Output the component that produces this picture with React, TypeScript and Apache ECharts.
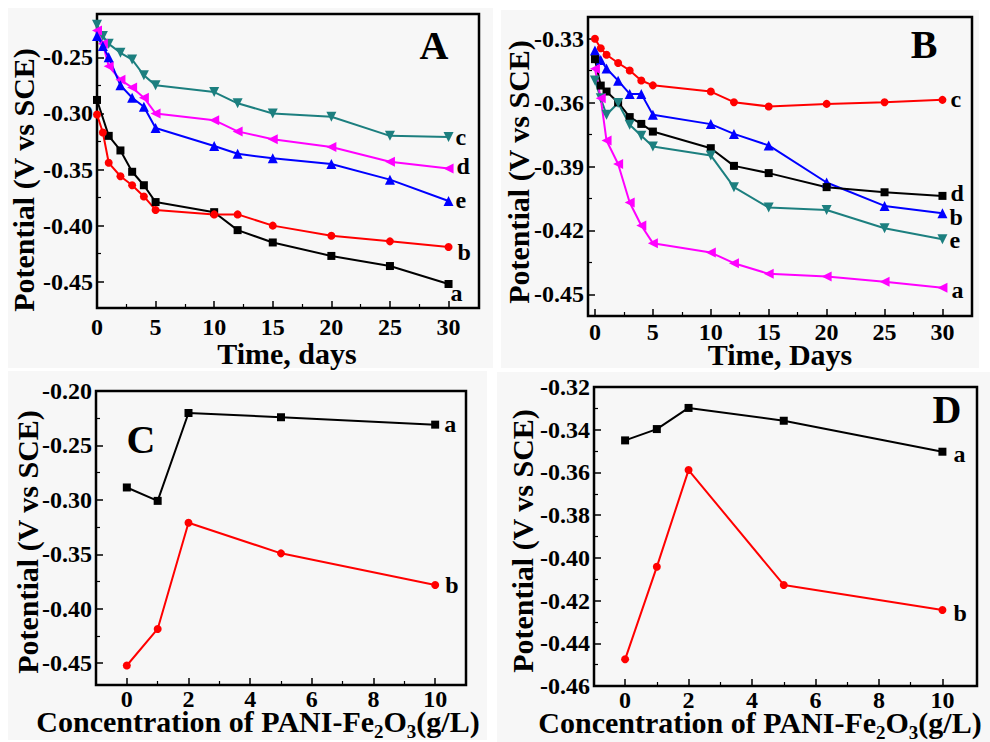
import React, { useEffect, useRef } from 'react';
import * as echarts from 'echarts';

const FONT = '"Liberation Serif", "Times New Roman", serif';

// ---------- Panel A ----------
const daysA_a = [0, 1, 2, 3, 4, 5, 10, 12, 15, 20, 25, 30];
const daysA = [0, 0.5, 1, 2, 3, 4, 5, 10, 12, 15, 20, 25, 30];
const A_a = [-0.288, -0.320, -0.333, -0.352, -0.364, -0.379, -0.388, -0.404, -0.415, -0.427, -0.436, -0.452];
const A_b = [-0.301, -0.317, -0.344, -0.356, -0.364, -0.374, -0.386, -0.390, -0.390, -0.400, -0.409, -0.414, -0.419];
const A_c = [-0.221, -0.231, -0.238, -0.246, -0.252, -0.266, -0.275, -0.281, -0.291, -0.300, -0.303, -0.320, -0.321];
const A_d = [-0.226, -0.238, -0.258, -0.270, -0.277, -0.286, -0.300, -0.306, -0.316, -0.323, -0.330, -0.343, -0.349];
const A_e = [-0.231, -0.240, -0.250, -0.275, -0.286, -0.294, -0.313, -0.329, -0.336, -0.340, -0.345, -0.359, -0.378];

// ---------- Panel B ----------
const daysB = [0, 0.5, 1, 2, 3, 4, 5, 10, 12, 15, 20, 25, 30];
const B_c = [-0.330, -0.3345, -0.3375, -0.3414, -0.3449, -0.3496, -0.3519, -0.3548, -0.3598, -0.3618, -0.3606, -0.3598, -0.3587];
const B_b = [-0.3355, -0.340, -0.344, -0.3497, -0.3559, -0.3559, -0.3657, -0.3701, -0.3747, -0.3801, -0.3975, -0.4085, -0.4119];
const B_d = [-0.3396, -0.352, -0.3548, -0.3599, -0.3668, -0.3700, -0.3736, -0.3814, -0.3897, -0.3931, -0.3997, -0.4021, -0.4038];
const B_e = [-0.3496, -0.358, -0.3657, -0.3602, -0.3704, -0.3756, -0.3806, -0.3848, -0.3997, -0.4093, -0.4104, -0.4190, -0.4242];
const B_a = [-0.3441, -0.358, -0.3778, -0.3888, -0.4069, -0.4177, -0.4260, -0.4304, -0.4354, -0.4404, -0.4417, -0.4441, -0.4469];

// ---------- Panel C ----------
const concC = [0, 1, 2, 5, 10];
const C_a = [-0.2886, -0.3009, -0.2202, -0.2241, -0.2309];
const C_b = [-0.4521, -0.4185, -0.3210, -0.3491, -0.3782];

// ---------- Panel D ----------
const concD = [0, 1, 2, 5, 10];
const D_a = [-0.345, -0.3397, -0.3298, -0.3358, -0.3503];
const D_b = [-0.4475, -0.4042, -0.3589, -0.4127, -0.4244];

// ---------- tick values ----------
const xMajorAB = [0, 5, 10, 15, 20, 25, 30];
const xMinorAB = [2.5, 7.5, 12.5, 17.5, 22.5, 27.5];
const yMajorA = [-0.45, -0.40, -0.35, -0.30, -0.25];
const yMinorA = [-0.425, -0.375, -0.325, -0.275, -0.225];
const yMajorB = [-0.45, -0.42, -0.39, -0.36, -0.33];
const yMinorB = [-0.435, -0.405, -0.375, -0.345];
const xMajorCD = [0, 2, 4, 6, 8, 10];
const xMinorCD = [1, 3, 5, 7, 9];
const yMajorC = [-0.45, -0.40, -0.35, -0.30, -0.25, -0.20];
const yMinorC = [-0.425, -0.375, -0.325, -0.275, -0.225];
const yMajorD = [-0.46, -0.44, -0.42, -0.40, -0.38, -0.36, -0.34, -0.32];
const yMinorD = [-0.45, -0.43, -0.41, -0.39, -0.37, -0.35, -0.33];

const BLACK = '#000000';
const RED = '#ff0000';
const BLUE = '#0000ff';
const MAGENTA = '#ff00ff';
const TEAL = '#1c7f7f';

const grids = [
  { left: 97, top: 14, width: 382, height: 294 },
  { left: 588, top: 17, width: 384, height: 299 },
  { left: 96, top: 391, width: 370, height: 294 },
  { left: 594, top: 387, width: 383, height: 299 },
];

const ranges = [
  { x: [0, 32.6], y: [-0.4734, -0.2114], xM: xMajorAB, xm: xMinorAB, yM: yMajorA, ym: yMinorA, xMargin: 7 },
  { x: [-0.6, 32.55], y: [-0.4602, -0.3198], xM: xMajorAB, xm: xMinorAB, yM: yMajorB, ym: yMinorB, xMargin: 4 },
  { x: [-1, 11], y: [-0.47, -0.2], xM: xMajorCD, xm: xMinorCD, yM: yMajorC, ym: yMinorC, xMargin: 2 },
  { x: [-0.98, 11.09], y: [-0.46, -0.32], xM: xMajorCD, xm: xMinorCD, yM: yMajorD, ym: yMinorD, xMargin: 2 },
];

const labelStyle = {
  fontFamily: FONT,
  fontWeight: 'bold' as const,
  fontSize: 24,
  color: '#000',
};

function makeAxes(dim: 'x' | 'y', gi: number) {
  const r = ranges[gi];
  const [min, max] = dim === 'x' ? r.x : r.y;
  const majors = dim === 'x' ? r.xM : r.yM;
  const minors = dim === 'x' ? r.xm : r.ym;
  const position = dim === 'x' ? 'bottom' : 'left';
  const fmt = dim === 'x' ? (v: number) => String(Math.round(v)) : (v: number) => v.toFixed(2);
  const major = {
    type: 'value',
    gridIndex: gi,
    position,
    min,
    max,
    axisLine: { show: false, onZero: false },
    axisTick: { show: true, inside: true, length: 7, lineStyle: { color: '#000', width: 1.5 }, customValues: majors },
    axisLabel: { show: true, customValues: majors, formatter: fmt, margin: dim === 'x' ? r.xMargin : 4, ...labelStyle },
    splitLine: { show: false },
  };
  const minor = {
    type: 'value',
    gridIndex: gi,
    position,
    min,
    max,
    axisLine: { show: false, onZero: false },
    axisTick: { show: true, inside: true, length: 4, lineStyle: { color: '#000', width: 1.2 }, customValues: minors },
    axisLabel: { show: false },
    splitLine: { show: false },
  };
  return [major, minor];
}

function makeLine(
  gi: number,
  xs: number[],
  ys: number[],
  color: string,
  symbol: string,
  rotate: number,
  label: string,
  offset: number[]
) {
  return {
    type: 'line',
    xAxisIndex: gi * 2,
    yAxisIndex: gi * 2,
    data: xs.map((x, i) => [x, ys[i]]),
    symbol,
    symbolSize: symbol === 'triangle' ? 10 : 8,
    symbolRotate: rotate,
    showAllSymbol: true,
    clip: false,
    lineStyle: { color, width: 2 },
    itemStyle: { color },
    endLabel: {
      show: true,
      formatter: label,
      distance: 6,
      offset,
      textBorderWidth: 0,
      ...labelStyle,
    },
    z: 3,
  };
}

function txt(x: number, y: number, text: string, size: number, rotation = 0, align = 'center') {
  return {
    type: 'text',
    x,
    y,
    rotation,
    silent: true,
    z: 10,
    style: {
      legacy: false,
      text,
      fill: '#000',
      fontFamily: FONT,
      fontWeight: 'bold',
      fontSize: size,
      align,
      verticalAlign: 'middle',
    },
  };
}

let measureCtx: CanvasRenderingContext2D | null = null;
function measure(text: string, size: number) {
  if (!measureCtx) {
    measureCtx = document.createElement('canvas').getContext('2d');
  }
  if (!measureCtx) return text.length * size * 0.5;
  measureCtx.font = `bold ${size}px ${FONT}`;
  return measureCtx.measureText(text).width;
}

// Title with Fe2O3 subscripts, laid out piece by piece
function concTitle(cx: number, cy: number) {
  const MAIN = 30;
  const SUB = 19;
  const pieces = [
    { t: 'Concentration of PANI-Fe', sub: false },
    { t: '2', sub: true },
    { t: 'O', sub: false },
    { t: '3', sub: true },
    { t: '(g/L)', sub: false },
  ];
  const widths = pieces.map((p) => measure(p.t, p.sub ? SUB : MAIN));
  const total = widths.reduce((a, b) => a + b, 0);
  let x = cx - total / 2;
  const out: any[] = [];
  pieces.forEach((p, i) => {
    out.push(txt(x, p.sub ? cy + 10 : cy, p.t, p.sub ? SUB : MAIN, 0, 'left'));
    x += widths[i];
  });
  return out;
}

function bg(x1: number, y1: number, x2: number, y2: number) {
  return {
    type: 'rect',
    silent: true,
    z: -10,
    shape: { x: x1, y: y1, width: x2 - x1, height: y2 - y1 },
    style: { fill: '#f7f7f7' },
  };
}

export default function App() {
  const ref = useRef<HTMLDivElement>(null);
  useEffect(() => {
    if (!ref.current) return;
    const chart = echarts.init(ref.current, null, { renderer: 'svg' });
    const xAxis: any[] = [];
    const yAxis: any[] = [];
    for (let gi = 0; gi < 4; gi++) {
      xAxis.push(...makeAxes('x', gi));
      yAxis.push(...makeAxes('y', gi));
    }
    const series = [
      // A
      makeLine(0, daysA_a, A_a, BLACK, 'rect', 0, 'a', [-4, 9]),
      makeLine(0, daysA, A_b, RED, 'circle', 0, 'b', [3, 5]),
      makeLine(0, daysA, A_c, TEAL, 'triangle', 180, 'c', [1, 0]),
      makeLine(0, daysA, A_d, MAGENTA, 'triangle', 90, 'd', [2, -2]),
      makeLine(0, daysA, A_e, BLUE, 'triangle', 0, 'e', [1, -1]),
      // B
      makeLine(1, daysB, B_c, RED, 'circle', 0, 'c', [2, -1]),
      makeLine(1, daysB, B_b, BLUE, 'triangle', 0, 'b', [1, 4]),
      makeLine(1, daysB, B_d, BLACK, 'rect', 0, 'd', [2, -3]),
      makeLine(1, daysB, B_e, TEAL, 'triangle', 180, 'e', [1, 1]),
      makeLine(1, daysB, B_a, MAGENTA, 'triangle', 90, 'a', [3, 2]),
      // C
      makeLine(2, concC, C_a, BLACK, 'rect', 0, 'a', [3, -1]),
      makeLine(2, concC, C_b, RED, 'circle', 0, 'b', [4, 0]),
      // D
      makeLine(3, concD, D_a, BLACK, 'rect', 0, 'a', [5, 2]),
      makeLine(3, concD, D_b, RED, 'circle', 0, 'b', [5, 3]),
    ];
    chart.setOption({
      animation: false,
      backgroundColor: '#ffffff',
      textStyle: { fontFamily: FONT, fontWeight: 'bold', color: '#000' },
      grid: grids.map((g) => ({
        ...g,
        show: true,
        borderColor: '#000',
        borderWidth: 2.5,
        backgroundColor: 'transparent',
        containLabel: false,
      })),
      xAxis,
      yAxis,
      series,
      graphic: {
        elements: [
          bg(8, 8, 493, 368),
          bg(501, 10, 979, 368),
          bg(8, 371, 487, 740),
          bg(497, 372, 990, 742),
          txt(434, 45, 'A', 40),
          txt(924, 44, 'B', 40),
          txt(141, 439, 'C', 40),
          txt(947, 409, 'D', 40),
          txt(23, 180, 'Potential (V vs SCE)', 30, Math.PI / 2),
          txt(518, 172, 'Potential (V vs SCE)', 30, Math.PI / 2),
          txt(27, 542, 'Potential (V vs SCE)', 30, Math.PI / 2),
          txt(522, 541, 'Potential (V vs SCE)', 30, Math.PI / 2),
          txt(287, 353, 'Time, days', 30),
          txt(780, 354, 'Time, Days', 30),
          ...concTitle(258, 721),
          ...concTitle(760, 722),
        ],
      },
    });
    return () => chart.dispose();
  }, []);
  return (
    <div
      ref={ref}
      style={{ position: 'absolute', left: 0, top: 0, width: 990, height: 742 }}
    />
  );
}
